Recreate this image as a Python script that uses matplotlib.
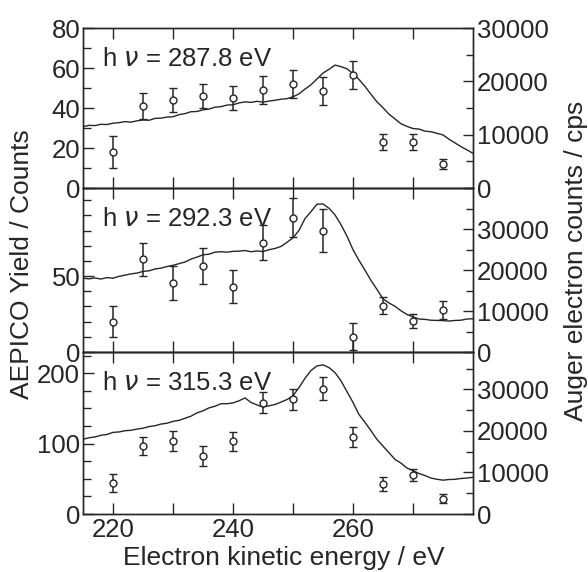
import matplotlib
matplotlib.use("Agg")
import matplotlib.pyplot as plt
from matplotlib.ticker import MultipleLocator, FixedLocator, FuncFormatter

plt.rcParams["font.family"] = ["Liberation Sans", "DejaVu Sans"]
plt.rcParams["mathtext.fontset"] = "dejavusans"

INK = "#262626"

# AEPICO yield (counts) at each selected electron energy
point_energy = [220, 225, 230, 235, 240, 245, 250, 255, 260, 265, 270, 275]
yield_288 = [18, 41, 44, 46, 45, 49, 52, 48.5, 56.5, 23, 23, 12]
err_288 = [8, 6.5, 6, 6, 6, 7, 7, 7, 7, 4, 4, 2.7]
yield_292 = [20, 61, 45.5, 56.5, 43, 72, 88.5, 80, 10, 30.5, 20.5, 27.5]
err_292 = [10, 11, 11, 12, 11, 11.5, 13, 14, 9, 5.5, 4.5, 6]
yield_315 = [44, 97, 104, 82, 103, 158, 163, 178, 109, 43, 55, 22]
err_315 = [12.5, 13, 14, 14, 14, 15, 15, 16, 14, 10, 8.5, 7]

# Auger electron spectra (cps), 1 eV steps from 215 to 280 eV
auger_energy = list(range(215, 281))
auger_288 = [11500, 11750, 11700, 11950, 11900, 12150, 12250, 12450, 12350, 12600,
             12750, 12700, 13050, 13100, 13300, 13350, 13750, 13950, 14300, 14350,
             14650, 14800, 15150, 15250, 15550, 15600, 15950, 16150, 16050, 16250,
             16100, 16300, 16450, 16650, 16750, 17100, 17650, 18550, 19350, 20450,
             21550, 22250, 23050, 22750, 22350, 21450, 20350, 19050, 17550, 16150,
             15050, 13850, 12950, 12050, 11550, 11150, 11050, 10650, 10550, 10250,
             9950, 9150, 8450, 7750, 7150, 6500]
auger_292 = [18000, 17850, 18050, 17800, 18150, 18000, 18450, 18750, 19050, 19250,
             19650, 19800, 20250, 20450, 20850, 21150, 21550, 21950, 22650, 23150,
             23700, 23850, 24350, 24450, 24350, 24550, 24600, 24750, 24450, 24650,
             24500, 24950, 25250, 25750, 26750, 27850, 29650, 32550, 34250, 36050,
             36100, 35050, 33450, 31050, 28250, 24950, 22350, 19950, 17450, 15250,
             12950, 11950, 11150, 10050, 9150, 8550, 8050, 7950, 7750, 7700,
             7650, 7550, 7700, 7750, 8050, 8100]
auger_315 = [18000, 18350, 18550, 18950, 19150, 19650, 19750, 20050, 20150, 20450,
             20650, 21050, 21250, 21650, 21850, 22300, 22550, 23050, 23550, 24350,
             24850, 25550, 25950, 26550, 26550, 26750, 27250, 27950, 26850, 26250,
             25750, 26050, 26350, 26950, 27550, 28450, 30450, 32650, 34550, 35650,
             35900, 35250, 34050, 32050, 29450, 26850, 23950, 22050, 20050, 17950,
             16350, 14750, 13150, 12250, 11050, 10450, 9750, 9250, 8650, 8350,
             8150, 8300, 8350, 8550, 8650, 8850]

panels = [
    ("h $\\nu$ = 287.8 eV", yield_288, err_288, auger_288,
     (0, 80), [0, 20, 40, 60, 80], 10, (0, 30000)),
    ("h $\\nu$ = 292.3 eV", yield_292, err_292, auger_292,
     (0, 108), [0, 50], 10, (0, 40000)),
    ("h $\\nu$ = 315.3 eV", yield_315, err_315, auger_315,
     (0, 230), [0, 100, 200], 25, (0, 39000)),
]

fig = plt.figure(figsize=(5.88, 5.72), dpi=100)
left, width = 83 / 588, 390 / 588
edges = [28, 188, 352, 514]

TICK_FS = 18.5
X_LABELLED = (220, 240, 260)

for i, (label, yld, err, auger, ylim, yticks, yminor, rlim) in enumerate(panels):
    top, bottom = edges[i], edges[i + 1]
    ax = fig.add_axes([left, 1 - bottom / 572, width, (bottom - top) / 572])
    ax2 = ax.twinx()

    ax2.plot(auger_energy, auger, color=INK, lw=1.0)
    ax.errorbar(point_energy, yld, yerr=err, fmt="o", ms=5, mfc="white",
                mec=INK, mew=1.0, ecolor=INK, elinewidth=1.1, capsize=3,
                capthick=1.1, zorder=5)
    ax.set_zorder(ax2.get_zorder() + 1)
    ax.patch.set_visible(False)

    ax.set_xlim(215, 280)
    ax.set_ylim(*ylim)
    ax2.set_ylim(*rlim)

    ax.xaxis.set_major_locator(FixedLocator([220, 230, 240, 250, 260, 270]))
    if i == 2:
        ax.xaxis.set_major_formatter(
            FuncFormatter(lambda v, p: f"{v:.0f}" if round(v) in X_LABELLED else ""))
    else:
        ax.tick_params(axis="x", labelbottom=False)

    ax.yaxis.set_major_locator(FixedLocator(yticks))
    ax.yaxis.set_minor_locator(MultipleLocator(yminor))
    rmaj = [v for v in [0, 10000, 20000, 30000] if v <= rlim[1]]
    ax2.yaxis.set_major_locator(FixedLocator(rmaj))
    ax2.yaxis.set_minor_locator(MultipleLocator(5000))

    ax.tick_params(axis="x", which="major", direction="in", top=True,
                   length=8, width=1, color=INK, labelsize=TICK_FS,
                   labelcolor=INK, pad=3)
    ax.tick_params(axis="y", which="major", direction="in", length=8, width=1,
                   color=INK, labelsize=TICK_FS, labelcolor=INK, pad=2)
    ax.tick_params(axis="y", which="minor", direction="in", length=6, width=1,
                   color=INK)
    ax2.tick_params(axis="y", which="major", direction="in", length=7, width=1,
                    color=INK, labelsize=TICK_FS, labelcolor=INK, pad=3)
    ax2.tick_params(axis="y", which="minor", direction="in", length=5, width=1,
                    color=INK)

    for a in (ax, ax2):
        for sp in a.spines.values():
            sp.set_color(INK)
            sp.set_linewidth(1.0)

    ax.text(0.049, 1 - 38 / (bottom - top), label, transform=ax.transAxes,
            fontsize=18.5, color=INK, va="baseline", ha="left")

fig.text(22 / 588, 1 - 264 / 572, "AEPICO Yield / Counts", rotation=90,
         ha="center", va="center", fontsize=19, color=INK)
fig.text(576 / 588, 1 - 261 / 572, "Auger electron counts / cps", rotation=90,
         ha="center", va="center", fontsize=19, color=INK)
fig.text(284 / 588, 1 - 558 / 572, "Electron kinetic energy / eV",
         ha="center", va="center", fontsize=19, color=INK)

fig.savefig("out.png", dpi=100)
